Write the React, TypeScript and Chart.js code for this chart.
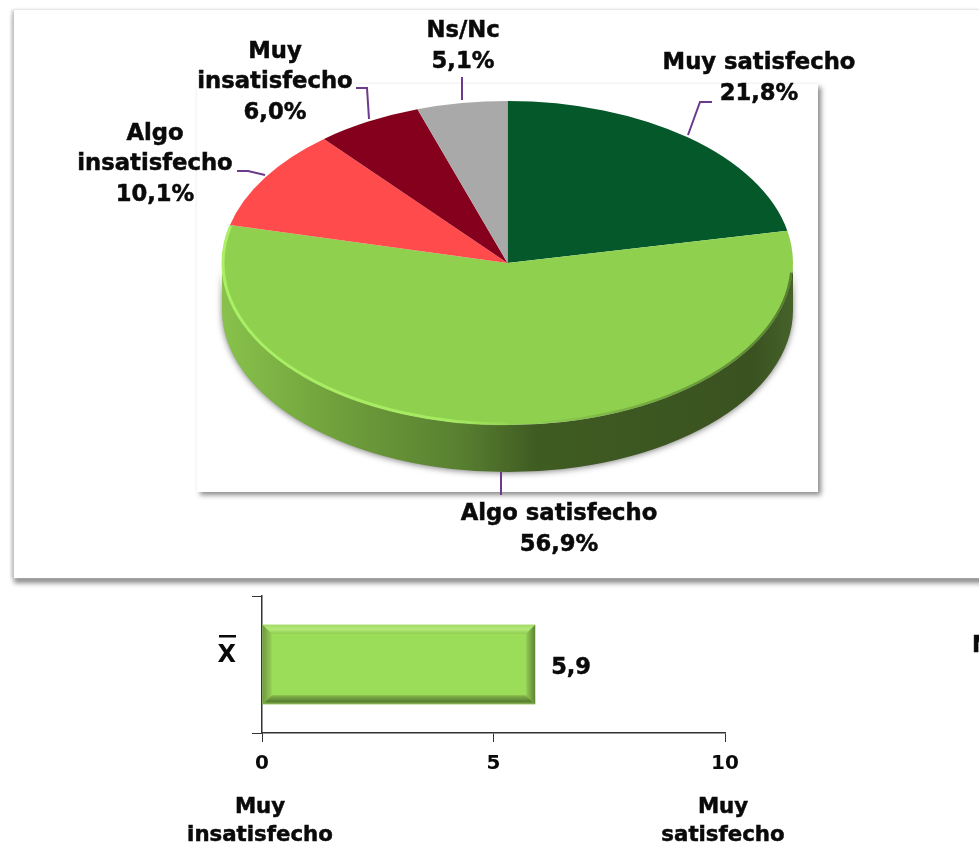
import React, { useEffect, useRef } from "react";
import { Chart, registerables } from "chart.js";

Chart.register(...registerables);

const categories = ["Muy satisfecho", "Algo satisfecho", "Algo insatisfecho", "Muy insatisfecho", "Ns/Nc"];
const shares = [21.8, 56.9, 10.1, 6.0, 5.1];
const sliceColors = ["#04582a", "#8fd14f", "#ff4b4b", "#85001c", "#a9a9a9"];
const meanLabels = ["X"];
const meanValues = [5.9];
const meanTicks = [0, 5, 10];

const FONT = '"DejaVu Sans", Verdana, sans-serif';
const TILT = 162 / 285.5;
const DEPTH = 47;
const LINE = "#6b3a8c";

const labelLayout = [
  { lines: ["Muy satisfecho"], x: 759, y: 63, step: 31, leader: [[712, 102], [700, 102], [688, 135]] },
  { lines: ["Algo satisfecho"], x: 559, y: 514, step: 31, leader: [[501, 472], [501, 495]] },
  { lines: ["Algo", "insatisfecho"], x: 155, y: 134, step: 30.5, leader: [[237, 171], [248, 171], [265, 175]] },
  { lines: ["Muy", "insatisfecho"], x: 275, y: 52, step: 30.5, leader: [[356, 88], [367, 88], [369, 119]] },
  { lines: ["Ns/Nc"], x: 463, y: 31, step: 31, leader: [[462, 77], [462, 100]] },
];

const comma = (v: number) => v.toFixed(1).replace(".", ",");

const heavyText = (ctx: any, t: string, x: number, y: number) => {
  ctx.strokeText(t, x, y);
  ctx.fillText(t, x, y);
};

const piePlugin = {
  id: "tiltedPie",
  beforeDatasetsDraw(chart: any) {
    const arc = chart.getDatasetMeta(0).data[0];
    const { ctx } = chart;
    const { x, y, outerRadius: r } = arc;
    const ry = r * TILT;
    ctx.save();
    const g = ctx.createLinearGradient(x - r, 0, x + r, 0);
    g.addColorStop(0, "#88c24b");
    g.addColorStop(0.2, "#70a03c");
    g.addColorStop(0.42, "#587f30");
    g.addColorStop(0.55, "#3f5c22");
    g.addColorStop(0.93, "#3a5220");
    g.addColorStop(1, "#46622a");
    ctx.shadowColor = "rgba(0,0,0,0.5)";
    ctx.shadowBlur = 6;
    ctx.shadowOffsetY = 1;
    ctx.fillStyle = g;
    ctx.beginPath();
    ctx.ellipse(x, y + DEPTH, r, ry, 0, 0, Math.PI);
    ctx.ellipse(x, y, r, ry, 0, Math.PI, 0, true);
    ctx.closePath();
    ctx.fill();
    ctx.restore();
    ctx.save();
    ctx.translate(x, y);
    ctx.scale(1, TILT);
    ctx.translate(-x, -y);
  },
  afterDatasetsDraw(chart: any) {
    const { ctx } = chart;
    ctx.restore();
    const arc = chart.getDatasetMeta(0).data[0];
    const { x, y, outerRadius: r } = arc;
    const ry = r * TILT;
    ctx.save();
    const rim = ctx.createLinearGradient(x - r, 0, x + 20, 0);
    rim.addColorStop(0, "rgba(170,240,100,1)");
    rim.addColorStop(0.75, "rgba(170,240,100,0.8)");
    rim.addColorStop(1, "rgba(170,240,100,0)");
    ctx.strokeStyle = rim;
    ctx.lineWidth = 3;
    ctx.beginPath();
    ctx.ellipse(x, y, r - 1, ry - 1, 0, Math.PI / 2, Math.PI + 0.23);
    ctx.stroke();
    const dark = ctx.createLinearGradient(x + 20, 0, x + r, 0);
    dark.addColorStop(0, "rgba(40,60,20,0)");
    dark.addColorStop(1, "rgba(40,60,20,0.55)");
    ctx.strokeStyle = dark;
    ctx.lineWidth = 3;
    ctx.beginPath();
    ctx.ellipse(x, y, r - 1, ry - 1, 0, 0.06, Math.PI / 2);
    ctx.stroke();
    ctx.restore();

    ctx.save();
    ctx.textAlign = "center";
    ctx.textBaseline = "middle";
    labelLayout.forEach((l, i) => {
      ctx.strokeStyle = LINE;
      ctx.lineWidth = 2;
      ctx.beginPath();
      l.leader.forEach(([px, py], k) => (k ? ctx.lineTo(px, py - chart.canvas.offsetTop) : ctx.moveTo(px, py - chart.canvas.offsetTop)));
      ctx.stroke();
      ctx.font = `bold 22.7px ${FONT}`;
      ctx.fillStyle = "#0a0a0a";
      ctx.strokeStyle = "#0a0a0a";
      ctx.lineWidth = 0.5;
      const rows = [...l.lines, `${comma(shares[i])}%`];
      rows.forEach((t, k) => heavyText(ctx, t, l.x, l.y + k * l.step - chart.canvas.offsetTop));
    });
    ctx.restore();
  },
};

const barPlugin = {
  id: "bevelBar",
  afterDatasetsDraw(chart: any) {
    const { ctx } = chart;
    const bar = chart.getDatasetMeta(0).data[0];
    const x0 = bar.base, x1 = bar.x;
    const y0 = bar.y - bar.height / 2, y1 = bar.y + bar.height / 2;
    const b = 9;
    const poly = (pts: number[][], fill: any) => {
      ctx.fillStyle = fill;
      ctx.beginPath();
      pts.forEach(([a, c], k) => (k ? ctx.lineTo(a, c) : ctx.moveTo(a, c)));
      ctx.closePath();
      ctx.fill();
    };
    ctx.save();
    const top = ctx.createLinearGradient(0, y0, 0, y0 + b);
    top.addColorStop(0, "#a6d96a");
    top.addColorStop(0.5, "#b3ea78");
    top.addColorStop(1, "#90cc52");
    poly([[x0, y0], [x1, y0], [x1 - b, y0 + b], [x0 + b, y0 + b]], top);
    const bot = ctx.createLinearGradient(0, y1 - b, 0, y1);
    bot.addColorStop(0, "#86b84c");
    bot.addColorStop(0.7, "#587f30");
    bot.addColorStop(1, "#8dbb56");
    poly([[x0, y1], [x1, y1], [x1 - b, y1 - b], [x0 + b, y1 - b]], bot);
    const right = ctx.createLinearGradient(x1 - b, 0, x1, 0);
    right.addColorStop(0, "#93cc55");
    right.addColorStop(1, "#5d8434");
    poly([[x1, y0], [x1, y1], [x1 - b, y1 - b], [x1 - b, y0 + b]], right);
    const left = ctx.createLinearGradient(x0, 0, x0 + b, 0);
    left.addColorStop(0, "#6f9a3e");
    left.addColorStop(1, "#93cc55");
    poly([[x0, y0], [x0, y1], [x0 + b, y1 - b], [x0 + b, y0 + b]], left);
    ctx.restore();

    ctx.save();
    ctx.fillStyle = "#0a0a0a";
    ctx.strokeStyle = "#0a0a0a";
    ctx.lineWidth = 0.5;
    ctx.textBaseline = "middle";
    ctx.font = `bold 22.5px ${FONT}`;
    ctx.textAlign = "left";
    const off = chart.canvas.offsetTop;
    heavyText(ctx, comma(meanValues[0]), x1 + 16, 668 - off);
    heavyText(ctx, "N", 972, 646 - off);
    ctx.fillRect(219, 635 - off, 17, 2.5);
    ctx.font = `bold 21.3px ${FONT}`;
    ctx.textAlign = "center";
    const sx = chart.scales.x;
    heavyText(ctx, "Muy", sx.getPixelForValue(0) - 2, 807 - off);
    heavyText(ctx, "insatisfecho", sx.getPixelForValue(0) - 2, 835 - off);
    heavyText(ctx, "Muy", sx.getPixelForValue(10) - 2, 807 - off);
    heavyText(ctx, "satisfecho", sx.getPixelForValue(10) - 2, 835 - off);
    ctx.restore();
  },
};

export default function App() {
  const pieRef = useRef<HTMLCanvasElement>(null);
  const barRef = useRef<HTMLCanvasElement>(null);

  useEffect(() => {
    const pie = new Chart(pieRef.current!, {
      type: "pie",
      data: {
        labels: categories,
        datasets: [{ data: shares, backgroundColor: sliceColors, borderWidth: 0 }],
      },
      options: {
        responsive: false,
        animation: false,
        layout: { padding: { left: 222, right: 186, top: 34, bottom: 34 } },
        plugins: { legend: { display: false }, tooltip: { enabled: false } },
      },
      plugins: [piePlugin],
    } as any);

    const bar = new Chart(barRef.current!, {
      type: "bar",
      data: {
        labels: meanLabels,
        datasets: [{
          data: meanValues,
          backgroundColor: "#9bdc58",
          borderWidth: 0,
          barPercentage: 0.58,
          categoryPercentage: 1,
        }],
      },
      options: {
        responsive: false,
        animation: false,
        indexAxis: "y",
        layout: { padding: { left: 0, right: 254, top: 11, bottom: 0 } },
        scales: {
          x: {
            min: 0,
            max: 10,
            afterBuildTicks: (s: any) => { s.ticks = meanTicks.map((value) => ({ value })); },
            afterFit: (s: any) => { s.height = 259 - 148; s.paddingLeft = 0; s.paddingRight = 0; },
            grid: { drawOnChartArea: false, tickLength: 9, color: "#333", tickColor: "#333" },
            border: { color: "#333", width: 1.5 },
            ticks: { color: "#0a0a0a", font: { family: FONT, size: 20, weight: "bold" }, padding: 10, maxRotation: 0 },
          },
          y: {
            afterFit: (s: any) => { s.width = 262; s.paddingTop = 0; s.paddingBottom = 0; },
            grid: { drawOnChartArea: false, tickLength: 10, color: "#333", tickColor: "#333", offset: true },
            border: { color: "#333", width: 1.5 },
            ticks: { color: "#0a0a0a", font: { family: FONT, size: 24, weight: "bold" }, padding: 16, labelOffset: -9 },
          },
        },
        plugins: { legend: { display: false }, tooltip: { enabled: false } },
      },
      plugins: [barPlugin],
    } as any);

    return () => {
      pie.destroy();
      bar.destroy();
    };
  }, []);

  const abs = (o: React.CSSProperties): React.CSSProperties => ({ position: "absolute", ...o });

  return (
    <div style={abs({ left: 0, top: 0, width: 979, height: 844, overflow: "hidden", background: "#fff" })}>
      <div style={abs({ left: 14, top: 10, width: 1040, height: 568, background: "#fff", boxShadow: "-2px 0 3px #c4c4c4, 0 5px 5px #8a8a8a" })} />
      <div style={abs({ left: 197, top: 84, width: 621, height: 408, background: "#fff", boxShadow: "3px 3px 5px #8a8a8a" })} />
      <canvas ref={pieRef} width={979} height={640} style={abs({ left: 0, top: -57, width: 979, height: 640 })} />
      <canvas ref={barRef} width={979} height={259} style={abs({ left: 0, top: 585, width: 979, height: 259 })} />
    </div>
  );
}
